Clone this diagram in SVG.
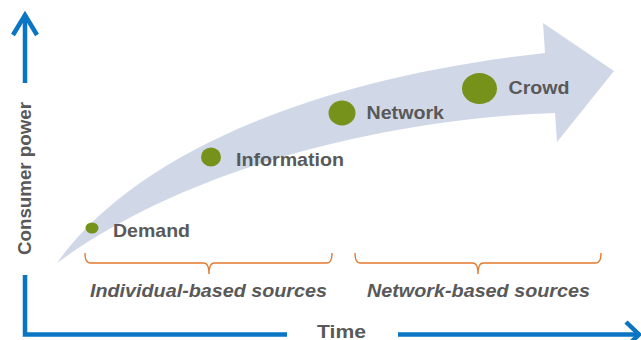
<svg xmlns="http://www.w3.org/2000/svg" width="641" height="340" viewBox="0 0 641 340">
  <style>
    .axis { fill: none; stroke: #0a75c2; stroke-width: 4.5; stroke-linecap: butt; stroke-linejoin: miter; }
    .brace { fill: none; stroke: #e3782e; stroke-width: 1.4; }
    .dot { fill: #76921a; }
    .lbl { font-family: "Liberation Sans", Arial, sans-serif; font-weight: bold; font-size: 18.5px; fill: #595959; }
    .grp { font-family: "Liberation Sans", Arial, sans-serif; font-weight: bold; font-style: italic; font-size: 18.5px; fill: #595959; }
  </style>

  <!-- curved growth arrow -->
  <path id="trend" fill="#d0d8e8"
        d="M57,263 C130,160 300,80 545,53 L543,23 L614,71 L557,142 L555,113 C400,118 195,162 57,263 Z"/>

  <!-- axes -->
  <g id="axes">
    <path class="axis" d="M25,83 V15"/>
    <path class="axis" d="M13,35 L25,15 L37,35"/>
    <path class="axis" d="M25,275 V334.5 H287"/>
    <path class="axis" d="M398,334.5 H638"/>
    <path class="axis" d="M626,322 L639,334.5 L626,347"/>
    <text class="lbl" transform="translate(31,255) rotate(-90)" textLength="153" lengthAdjust="spacingAndGlyphs">Consumer power</text>
    <text class="lbl" x="317" y="337.5" font-size="17.5px" textLength="49" lengthAdjust="spacingAndGlyphs">Time</text>
  </g>

  <!-- stages -->
  <g id="demand">
    <ellipse class="dot" cx="92" cy="228" rx="6.5" ry="5.5"/>
    <text class="lbl" x="113" y="236.5" textLength="77" lengthAdjust="spacingAndGlyphs">Demand</text>
  </g>
  <g id="information">
    <ellipse class="dot" cx="211" cy="157" rx="10" ry="9.5"/>
    <text class="lbl" x="236" y="165.5" textLength="108" lengthAdjust="spacingAndGlyphs">Information</text>
  </g>
  <g id="network">
    <ellipse class="dot" cx="342" cy="113" rx="13.5" ry="12.5"/>
    <text class="lbl" x="366.5" y="119" textLength="77.5" lengthAdjust="spacingAndGlyphs">Network</text>
  </g>
  <g id="crowd">
    <ellipse class="dot" cx="479.5" cy="88.5" rx="17.5" ry="15.5"/>
    <text class="lbl" x="508.5" y="94" textLength="61" lengthAdjust="spacingAndGlyphs">Crowd</text>
  </g>

  <!-- source groupings -->
  <g id="individual-sources">
    <path class="brace" d="M85,253 Q85,263 90,263 H204 Q209,263 209,274 Q209,263 214,263 H327 Q332,263 332,253"/>
    <text class="grp" x="90" y="296.5" textLength="237" lengthAdjust="spacingAndGlyphs">Individual-based sources</text>
  </g>
  <g id="network-sources">
    <path class="brace" d="M355,253 Q355,263 360,263 H473 Q478,263 478,274 Q478,263 483,263 H596 Q601,263 601,253"/>
    <text class="grp" x="367" y="296.5" textLength="223" lengthAdjust="spacingAndGlyphs">Network-based sources</text>
  </g>
</svg>
